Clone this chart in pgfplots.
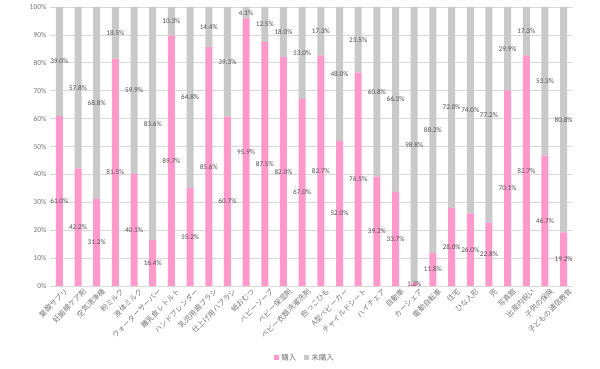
\documentclass[border=0pt]{standalone}
\usepackage{pgfplots}
\pgfplotsset{compat=1.18}
\usepackage{pgfplotstable}
\usepackage{fontspec}
\setmainfont{Noto Sans CJK JP}
\newfontfamily\lab{Carlito}
\definecolor{pinkbar}{RGB}{255,153,204}
\definecolor{graybar}{RGB}{201,201,201}
\definecolor{gridgray}{RGB}{217,217,217}
\definecolor{txtgray}{RGB}{118,118,118}
\definecolor{lblgray}{RGB}{80,80,80}
\pgfplotstableread{
x buy not
0 61.0 39.0
1 42.2 57.8
2 31.2 68.8
3 81.5 18.5
4 40.1 59.9
5 16.4 83.6
6 89.7 10.3
7 35.2 64.8
8 85.6 14.4
9 60.7 39.3
10 95.9 4.1
11 87.5 12.5
12 82.0 18.0
13 67.0 33.0
14 82.7 17.3
15 52.0 48.0
16 76.5 23.5
17 39.2 60.8
18 33.7 66.3
19 1.2 98.8
20 11.8 88.2
21 28.0 72.0
22 26.0 74.0
23 22.8 77.2
24 70.1 29.9
25 82.7 17.3
26 46.7 53.3
27 19.2 80.8
}\data
\begin{document}
\begin{tikzpicture}
\path[use as bounding box] (0,0) rectangle (600bp,369bp);
\begin{axis}[
  scale only axis, width=523bp, height=279bp,
  at={(50bp,83bp)}, anchor=south west,
  ybar stacked, bar width=7bp,
  xmin=-0.5, xmax=27.5, ymin=0, ymax=100,
  ytick={0,10,...,100},
  yticklabel={\pgfmathprintnumber{\tick}\%},
  /pgf/number format/assume math mode=true,
  y tick label style={font=\lab\fontsize{7.5bp}{8bp}\selectfont, text=txtgray},
  ymajorgrids, grid style={draw=gridgray, line width=0.7bp},
  axis line style={draw=none},
  tick style={draw=none},
  xtick={0,...,27},
  xticklabels={葉酸サプリ,妊娠線ケア剤,空気清浄機,粉ミルク,液体ミルク,ウォーターサーバー,離乳食レトルト,ハンドブレンダー,乳児用歯ブラシ,仕上げ用ハブラシ,紙おむつ,ベビーソープ,ベビー保湿剤,ベビー衣類洗濯洗剤,抱っこひも,A型ベビーカー,チャイルドシート,ハイチェア,自動車,カーシェア,電動自転車,住宅,ひな人形,兜,写真館,出産内祝い,子供の保険,子どもの通信教育},
  x tick label style={rotate=45, anchor=east, font=\fontsize{7.3bp}{8bp}\selectfont, text=txtgray, inner sep=1bp, xshift=3bp, yshift=-8bp},
  legend style={at={(0.488,-0.258)}, anchor=center, legend columns=2, draw=none, fill=none,
    font=\fontsize{7.5bp}{8bp}\selectfont, text=txtgray,
    /tikz/every even column/.append style={column sep=6bp}},
  legend image code/.code={\fill[#1] (0bp,-2.5bp) rectangle (5bp,2.5bp);},
]
\addplot[fill=pinkbar, draw=none] table[x=x, y=buy] {\data};
\addplot[fill=graybar, draw=none] table[x=x, y=not] {\data};
\legend{購入,未購入}
\end{axis}
\begin{axis}[
  scale only axis, width=523bp, height=279bp,
  at={(50bp,83bp)}, anchor=south west,
  xmin=-0.5, xmax=27.5, ymin=0, ymax=100,
  hide axis, clip=false,
  /pgf/number format/assume math mode=true,
  nodes near coords={\pgfmathprintnumber[fixed,fixed zerofill,precision=1,assume math mode=true]{\pgfplotspointmeta}\%},
  every node near coord/.style={anchor=center, font=\lab\fontsize{7.2bp}{8bp}\selectfont, text=lblgray, inner sep=0pt},
]
\addplot[draw=none, mark=none, point meta=explicit] table[x=x, y expr=\thisrow{buy}/2, meta=buy] {\data};
\addplot[draw=none, mark=none, point meta=explicit] table[x=x, y expr=\thisrow{buy}+\thisrow{not}/2, meta=not] {\data};
\end{axis}
\end{tikzpicture}
\end{document}
